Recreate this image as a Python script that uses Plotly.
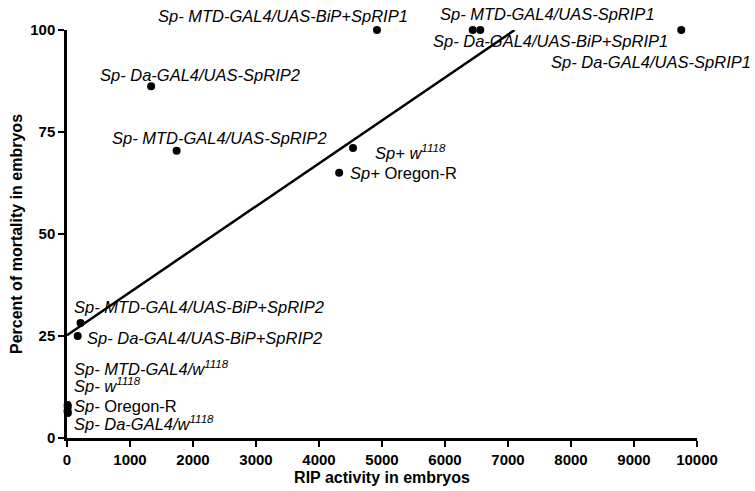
import numpy as np
import plotly.graph_objects as go

# ---- data ----
labels = [
    "<i>Sp- MTD-GAL4/UAS-BiP+SpRIP1</i>",
    "<i>Sp- MTD-GAL4/UAS-SpRIP1</i>",
    "<i>Sp- Da-GAL4/UAS-BiP+SpRIP1</i>",
    "<i>Sp- Da-GAL4/UAS-SpRIP1</i>",
    "<i>Sp- Da-GAL4/UAS-SpRIP2</i>",
    "<i>Sp- MTD-GAL4/UAS-SpRIP2</i>",
    "<i>Sp+ w<sup>1118</sup></i>",
    "<i>Sp+</i> Oregon-R",
    "<i>Sp- MTD-GAL4/UAS-BiP+SpRIP2</i>",
    "<i>Sp- Da-GAL4/UAS-BiP+SpRIP2</i>",
    "<i>Sp- MTD-GAL4/w<sup>1118</sup></i>",
    "<i>Sp- w<sup>1118</sup></i>",
    "<i>Sp-</i> Oregon-R",
    "<i>Sp- Da-GAL4/w<sup>1118</sup></i>",
]
rip_activity = [4920, 6440, 6560, 9750, 1335, 1740, 4540, 4320, 215, 170, 10, 12, 8, 14]
mortality = [100, 100, 100, 100, 86.2, 70.4, 71.1, 65.0, 28.2, 25.0, 8.1, 7.6, 6.6, 6.1]

x_ticks = [0, 1000, 2000, 3000, 4000, 5000, 6000, 7000, 8000, 9000, 10000]
x_tick_text = ["0", "1000", "2000", "3000", "4000", "5000", "6000", "7000", "8000", "9000", "10000"]
y_ticks = [0, 25, 50, 75, 100]

# label placement (pixel offsets from point, anchor)
label_pos = [
    (33, 14, "right"),
    (-35, 16, "left"),
    (-49, -11, "left"),
    (72, -32, "right"),
    (-53, 11, "left"),
    (-67, 13, "left"),
    (20, -4, "left"),
    (9, 0, "left"),
    (-9, 16, "left"),
    (7, -2, "left"),
    (4, 37, "left"),
    (4, 22, "left"),
    (4, 5, "left"),
    (4, -10, "left"),
]

# ---- linear regression ----
xs = np.array(rip_activity, dtype=float)
ys = np.array(mortality, dtype=float)
slope, intercept = np.polyfit(xs, ys, 1)
x_end = (100 - intercept) / slope
fit_x = [0, x_end]
fit_y = [intercept, intercept + slope * x_end]

FONT = "Liberation Sans, Arial"

fig = go.Figure()
fig.add_trace(go.Scatter(x=fit_x, y=fit_y, mode="lines",
                         line=dict(color="black", width=2.5),
                         showlegend=False, hoverinfo="skip", cliponaxis=False))
fig.add_trace(go.Scatter(x=rip_activity, y=mortality, mode="markers",
                         marker=dict(color="black", size=8),
                         showlegend=False, cliponaxis=False))

for lab, xv, yv, (dx, dy, anc) in zip(labels, rip_activity, mortality, label_pos):
    fig.add_annotation(x=xv, y=yv, text=lab, showarrow=False,
                       xanchor=anc, yanchor="middle", xshift=dx, yshift=dy,
                       font=dict(family=FONT, size=16.5, color="black"))

axis_common = dict(showline=True, linecolor="black", linewidth=2.5,
                   ticks="outside", ticklen=6, tickwidth=2, tickcolor="black",
                   showgrid=False, zeroline=False, mirror=False, automargin=False,
                   tickfont=dict(family=FONT, size=15, color="black", weight="bold"))

fig.update_layout(
    width=755, height=491,
    margin=dict(l=67, r=58, t=30, b=53),
    paper_bgcolor="white", plot_bgcolor="white",
    xaxis=dict(range=[0, 10000], tickvals=x_ticks, ticktext=x_tick_text,
               title=dict(text="<b>RIP activity in embryos</b>", standoff=6,
                          font=dict(family=FONT, size=16, color="black")),
               **axis_common),
    yaxis=dict(range=[0, 100], tickvals=y_ticks,
               title=dict(text="<b>Percent of mortality in embryos</b>", standoff=4,
                          font=dict(family=FONT, size=16, color="black")),
               **axis_common),
)

fig.write_html("out.html")
